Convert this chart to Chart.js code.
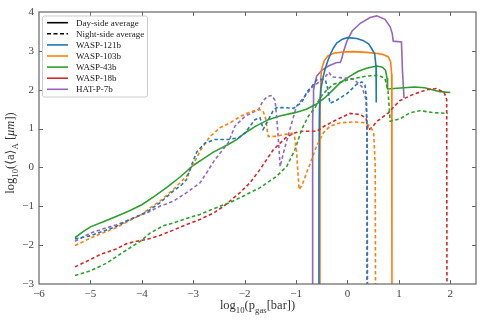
<!DOCTYPE html>
<html><head><meta charset="utf-8">
<script src="https://cdn.jsdelivr.net/npm/chart.js@4.4.0/dist/chart.umd.min.js"></script>
<style>html,body{margin:0;padding:0;background:#fff}</style>
</head><body>
<canvas id="c" width="483" height="322"></canvas>
<script>
// ---------- data (x = log10 p_gas [bar], y = log10 <a>_A [um]) ----------
const xTicks = [-6, -5, -4, -3, -2, -1, 0, 1, 2];
const yTicks = [-3, -2, -1, 0, 1, 2, 3, 4];

const planets = ['WASP-121b', 'WASP-103b', 'WASP-43b', 'WASP-18b', 'HAT-P-7b'];
const legendStyles = ['Day-side average', 'Night-side average'];

const wasp121bDay = [[-0.56,-3.05],[-0.555,0],[-0.545,1.5],[-0.52,2.0],[-0.47,2.35],[-0.43,2.55],[-0.38,2.75],[-0.33,2.92],[-0.27,3.08],[-0.21,3.2],[-0.1,3.3],[0.0,3.34],[0.18,3.32],[0.3,3.27],[0.41,3.18],[0.47,3.06],[0.53,2.92],[0.555,2.6],[0.56,1.67]];
const wasp103bDay = [[-0.54,-3.05],[-0.535,0],[-0.53,1.8],[-0.52,2.3],[-0.5,2.55],[-0.45,2.75],[-0.38,2.87],[-0.27,2.94],[-0.1,2.97],[0.1,2.98],[0.37,2.96],[0.55,2.94],[0.68,2.91],[0.79,2.85],[0.84,2.72],[0.86,2.4],[0.865,-3.05]];
const wasp43bDay = [[-5.3,-1.81],[-5.15,-1.66],[-5.0,-1.53],[-4.75,-1.40],[-4.5,-1.26],[-4.25,-1.12],[-4.0,-0.96],[-3.75,-0.74],[-3.5,-0.50],[-3.25,-0.24],[-3.0,0.05],[-2.83,0.2],[-2.6,0.40],[-2.32,0.59],[-2.15,0.72],[-2.0,0.88],[-1.8,1.05],[-1.54,1.23],[-1.3,1.33],[-1.02,1.41],[-0.8,1.50],[-0.6,1.63],[-0.45,1.78],[-0.3,1.97],[-0.14,2.18],[0.05,2.35],[0.2,2.47],[0.37,2.55],[0.57,2.61],[0.68,2.58],[0.74,2.50],[0.77,2.3],[0.78,2.02],[0.9,2.03],[1.1,2.05],[1.3,2.07],[1.5,2.05],[1.65,2.0],[1.8,1.95],[2.0,1.93]];
const hatP7bDay = [[-0.685,-3.05],[-0.68,0],[-0.675,1.2],[-0.67,1.6],[-0.66,2.0],[-0.6,2.35],[-0.5,2.50],[-0.37,2.61],[-0.21,2.70],[-0.14,2.7],[-0.11,2.8],[-0.08,2.97],[-0.01,3.25],[0.09,3.51],[0.25,3.71],[0.44,3.86],[0.57,3.90],[0.73,3.81],[0.83,3.62],[0.87,3.45],[0.89,3.25],[1.05,3.23],[1.07,2.48],[1.10,1.79]];

const wasp121bNight = [[-5.3,-1.84],[-5.0,-1.76],[-4.75,-1.64],[-4.5,-1.52],[-4.23,-1.34],[-4.0,-1.21],[-3.84,-1.09],[-3.65,-0.91],[-3.39,-0.61],[-3.22,-0.44],[-3.13,-0.31],[-3.03,0.07],[-2.93,0.40],[-2.77,0.63],[-2.58,0.72],[-2.32,0.72],[-2.12,0.76],[-1.99,0.89],[-1.8,1.23],[-1.70,1.28],[-1.64,0.98],[-1.57,1.15],[-1.45,1.45],[-1.38,1.54],[-1.21,1.54],[-1.05,1.52],[-0.89,1.67],[-0.79,1.94],[-0.69,2.09],[-0.60,2.25],[-0.5,2.27],[-0.43,2.25],[-0.38,2.0],[-0.34,1.65],[-0.21,1.73],[-0.01,1.90],[0.18,2.14],[0.28,2.2],[0.34,2.12],[0.37,1.77],[0.38,0.9],[0.38,-3.05]];
const wasp103bNight = [[-5.3,-2.01],[-5.0,-1.82],[-4.75,-1.68],[-4.5,-1.55],[-4.23,-1.36],[-4.0,-1.21],[-3.84,-1.04],[-3.65,-0.87],[-3.39,-0.57],[-3.13,-0.23],[-2.93,0.25],[-2.87,0.42],[-2.67,0.80],[-2.48,1.02],[-2.28,1.15],[-2.1,1.3],[-1.93,1.41],[-1.73,1.49],[-1.64,1.45],[-1.59,1.25],[-1.56,0.95],[-1.54,0.80],[-1.41,0.80],[-1.21,0.85],[-1.08,0.88],[-1.03,0.8],[-0.99,0.4],[-0.96,-0.2],[-0.94,-0.57],[-0.88,-0.45],[-0.8,-0.15],[-0.73,0.08],[-0.6,0.55],[-0.47,0.89],[-0.34,1.06],[-0.14,1.15],[0.12,1.17],[0.35,1.15],[0.44,1.06],[0.51,0.89],[0.54,0.03],[0.545,-3.05]];
const wasp43bNight = [[-5.3,-2.78],[-5.0,-2.66],[-4.68,-2.46],[-4.5,-2.3],[-4.29,-2.12],[-4.03,-1.90],[-3.84,-1.69],[-3.58,-1.50],[-3.39,-1.43],[-3.1,-1.3],[-2.87,-1.21],[-2.6,-1.06],[-2.28,-0.90],[-2.0,-0.72],[-1.70,-0.52],[-1.38,-0.23],[-1.18,0.03],[-1.02,0.46],[-0.89,0.98],[-0.76,1.32],[-0.63,1.54],[-0.53,1.8],[-0.4,2.0],[-0.27,2.14],[0.05,2.27],[0.37,2.35],[0.60,2.37],[0.73,2.29],[0.79,1.96],[0.83,1.19],[1.02,1.25],[1.22,1.41],[1.41,1.46],[1.67,1.41],[1.95,1.39]];
const wasp18bNight = [[-5.3,-2.56],[-5.0,-2.37],[-4.81,-2.24],[-4.5,-2.1],[-4.29,-1.96],[-4.1,-1.9],[-3.9,-1.85],[-3.65,-1.75],[-3.4,-1.62],[-3.13,-1.47],[-2.87,-1.34],[-2.6,-1.17],[-2.41,-1.0],[-2.09,-0.65],[-1.90,-0.40],[-1.70,-0.05],[-1.44,0.46],[-1.18,0.79],[-1.0,0.9],[-0.86,0.93],[-0.60,0.93],[-0.43,1.08],[-0.21,1.23],[0.05,1.39],[0.25,1.36],[0.36,1.27],[0.41,0.97],[0.47,1.02],[0.57,1.18],[0.79,1.4],[1.02,1.72],[1.28,1.88],[1.54,2.0],[1.73,2.03],[1.88,1.93],[1.93,1.75],[1.935,-3.05]];
const hatP7bNight = [[-5.3,-1.90],[-5.0,-1.69],[-4.75,-1.58],[-4.5,-1.48],[-4.23,-1.34],[-4.0,-1.21],[-3.9,-1.17],[-3.65,-1.0],[-3.39,-0.87],[-3.13,-0.65],[-2.87,-0.40],[-2.72,-0.1],[-2.58,0.20],[-2.32,0.63],[-2.19,1.06],[-1.99,1.32],[-1.73,1.49],[-1.64,1.72],[-1.55,1.83],[-1.47,1.85],[-1.41,1.73],[-1.38,1.35],[-1.34,0.65],[-1.31,0.02],[-1.25,0.35],[-1.12,0.98],[-0.99,1.58],[-0.83,1.83],[-0.70,2.05],[-0.57,2.18],[-0.45,2.3],[-0.36,2.45],[-0.3,2.33],[-0.14,2.31],[0.12,2.27],[0.28,2.08],[0.36,1.75],[0.38,0.9],[0.39,-3.05]];

// ---------- styling ----------
const COLORS = {'WASP-121b':'#1f77b4','WASP-103b':'#ff7f0e','WASP-43b':'#2ca02c','WASP-18b':'#d62728','HAT-P-7b':'#9467bd'};
const FONT = '"Liberation Serif", "DejaVu Serif", serif';
const DASH = [3.5, 2.5];

function ds(label, pts, color, dashed) {
  return {
    label, data: pts.map(p => ({x: p[0], y: p[1]})),
    borderColor: color, backgroundColor: color, borderWidth: 1.6,
    borderDash: dashed ? DASH : [], pointRadius: 0, tension: 0, fill: false
  };
}
const datasets = [
  ds('WASP-121b night', wasp121bNight, COLORS['WASP-121b'], true),
  ds('WASP-103b night', wasp103bNight, COLORS['WASP-103b'], true),
  ds('WASP-43b night', wasp43bNight, COLORS['WASP-43b'], true),
  ds('WASP-18b night', wasp18bNight, COLORS['WASP-18b'], true),
  ds('HAT-P-7b night', hatP7bNight, COLORS['HAT-P-7b'], true),
  ds('WASP-121b day', wasp121bDay, COLORS['WASP-121b'], false),
  ds('WASP-103b day', wasp103bDay, COLORS['WASP-103b'], false),
  ds('WASP-43b day', wasp43bDay, COLORS['WASP-43b'], false),
  ds('HAT-P-7b day', hatP7bDay, COLORS['HAT-P-7b'], false)
];

const fmt = v => String(v).replace('-', '\u2212');

function richWidth(ctx, parts, size) {
  let w = 0;
  for (const [t, s] of parts) {
    const fs = s === 's' ? size * 0.7 : size;
    ctx.font = (s === 'i' ? 'italic ' : '') + fs + 'px ' + FONT;
    w += ctx.measureText(t).width;
  }
  return w;
}
function drawRich(ctx, parts, cx, cy, size) {
  let x = cx - richWidth(ctx, parts, size) / 2;
  ctx.textBaseline = 'alphabetic';
  ctx.textAlign = 'left';
  for (const [t, s] of parts) {
    const fs = s === 's' ? size * 0.7 : size;
    ctx.font = (s === 'i' ? 'italic ' : '') + fs + 'px ' + FONT;
    ctx.fillText(t, x, cy + (s === 's' ? size * 0.28 : 0));
    x += ctx.measureText(t).width;
  }
}

const framePlugin = {
  id: 'frame',
  afterDatasetsDraw(chart) {
    const {ctx, chartArea: a, scales: {x, y}} = chart;
    ctx.save();
    ctx.strokeStyle = '#666';
    ctx.lineWidth = 1.2;
    ctx.strokeRect(a.left, a.top, a.right - a.left, a.bottom - a.top);
    ctx.lineWidth = 1;
    ctx.beginPath();
    for (const v of xTicks) {
      const px = Math.round(x.getPixelForValue(v)) + 0.5;
      if (px <= a.left + 1 || px >= a.right - 1) continue;
      ctx.moveTo(px, a.bottom); ctx.lineTo(px, a.bottom - 4);
      ctx.moveTo(px, a.top); ctx.lineTo(px, a.top + 4);
    }
    for (const v of yTicks) {
      const py = Math.round(y.getPixelForValue(v)) + 0.5;
      if (py <= a.top + 1 || py >= a.bottom - 1) continue;
      ctx.moveTo(a.left, py); ctx.lineTo(a.left + 4, py);
      ctx.moveTo(a.right, py); ctx.lineTo(a.right - 4, py);
    }
    ctx.stroke();

    // legend
    const bx = 42, by = 15.5, bw = 105, bh = 81;
    ctx.fillStyle = 'rgba(255,255,255,0.9)';
    ctx.strokeStyle = '#ccc';
    ctx.lineWidth = 1;
    ctx.beginPath();
    ctx.roundRect(bx + 0.5, by + 0.5, bw, bh, 2);
    ctx.fill(); ctx.stroke();
    const rows = [
      [legendStyles[0], '#000', false],
      [legendStyles[1], '#000', true],
      ...planets.map(p => [p, COLORS[p], false])
    ];
    rows.forEach((r, i) => {
      const ry = 22.7 + i * 11.1;
      ctx.strokeStyle = r[1];
      ctx.lineWidth = 1.6;
      ctx.setLineDash(r[2] ? [4, 2.5] : []);
      ctx.beginPath(); ctx.moveTo(47, ry); ctx.lineTo(68, ry); ctx.stroke();
      ctx.setLineDash([]);
      ctx.fillStyle = '#222';
      ctx.font = '9px ' + FONT;
      ctx.textBaseline = 'middle';
      ctx.textAlign = 'left';
      ctx.fillText(r[0], 76, ry + 0.5);
    });
    ctx.restore();
  },
  afterDraw(chart) {
    const {ctx, chartArea: a} = chart;
    ctx.save();
    ctx.fillStyle = '#333';
    drawRich(ctx, [['log','n'],['10','s'],['(p','n'],['gas','s'],['[bar])','n']], (a.left + a.right) / 2, 309, 12.5);
    ctx.translate(14, (a.top + a.bottom) / 2 + 5);
    ctx.rotate(-Math.PI / 2);
    drawRich(ctx, [['log','n'],['10','s'],['(\u27E8a\u27E9','n'],['A','s'],[' [','n'],['\u03BCm','i'],['])','n']], 0, 0, 12.5);
    ctx.restore();
  }
};

new Chart(document.getElementById('c'), {
  type: 'line',
  data: {datasets},
  plugins: [framePlugin],
  options: {
    responsive: false,
    animation: false,
    layout: {padding: {left: 0, right: 7, top: 12, bottom: 0}},
    plugins: {legend: {display: false}, tooltip: {enabled: false}},
    scales: {
      x: {
        type: 'linear', min: -6, max: 2.5,
        grid: {display: false, drawTicks: false}, border: {display: false},
        afterBuildTicks: s => { s.ticks = xTicks.map(v => ({value: v})); },
        afterFit: s => { s.height = 38; },
        ticks: {padding: 4, color: '#444', font: {family: FONT, size: 11}, callback: v => fmt(v), maxRotation: 0}
      },
      y: {
        type: 'linear', min: -3, max: 4,
        grid: {display: false, drawTicks: false}, border: {display: false},
        afterBuildTicks: s => { s.ticks = yTicks.map(v => ({value: v})); },
        afterFit: s => { s.width = 39; },
        ticks: {padding: 5, color: '#444', font: {family: FONT, size: 11}, callback: v => fmt(v)}
      }
    }
  }
});
</script>
</body></html>
